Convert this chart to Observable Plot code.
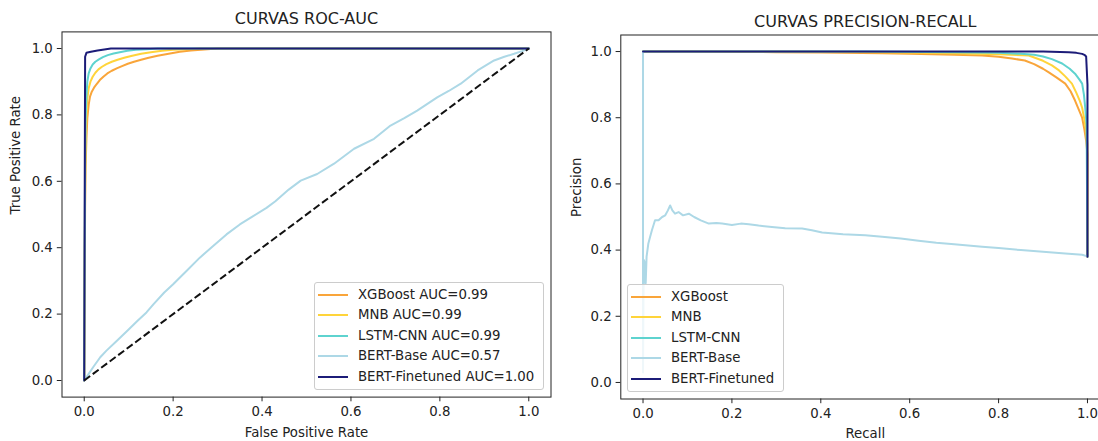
<!DOCTYPE html>
<html>
<head>
<meta charset="utf-8">
<script src="https://cdn.jsdelivr.net/npm/d3@7"></script>
<script src="https://cdn.jsdelivr.net/npm/@observablehq/plot@0.6"></script>
<style>
  html, body { margin: 0; padding: 0; background: #fff; }
  #wrap { position: relative; width: 1098px; height: 441px; overflow: hidden; background: #fff; font-family: "DejaVu Sans", sans-serif; color: #222; }
  #wrap svg { position: absolute; top: 0; }
  .legend { position: absolute; border: 1px solid #cccccc; border-radius: 3px; background: rgba(255,255,255,0.8); box-sizing: border-box; }
  .legend .row { position: absolute; left: 0; right: 0; height: 0; }
  .legend .sw { position: absolute; height: 2px; margin-top: -1px; }
  .legend .lab { position: absolute; font-size: 13.3px; line-height: 16px; margin-top: -8px; white-space: nowrap; color: #222; }
</style>
</head>
<body>
<div id="wrap"></div>
<script>
// ---------- data ----------
const models = ["XGBoost", "MNB", "LSTM-CNN", "BERT-Base", "BERT-Finetuned"];
const aucLabels = ["0.99", "0.99", "0.99", "0.57", "1.00"];
const modelColors = ["#f9a53a", "#ffd43a", "#5ed3cf", "#add8e6", "#1c1c78"];
const ticks = [0, 0.2, 0.4, 0.6, 0.8, 1.0];

// ROC curves: [fpr, tpr]
const rocXGBoost = [[0,0],[0.001,0.30],[0.002,0.52],[0.003,0.64],[0.005,0.73],[0.007,0.79],[0.010,0.83],[0.013,0.855],[0.017,0.87],[0.022,0.882],[0.028,0.893],[0.035,0.905],[0.043,0.915],[0.052,0.925],[0.062,0.933],[0.073,0.94],[0.085,0.947],[0.098,0.954],[0.112,0.96],[0.128,0.966],[0.145,0.972],[0.165,0.978],[0.19,0.984],[0.215,0.99],[0.24,0.994],[0.27,0.997],[0.30,1.0],[1,1]];
const rocMNB = [[0,0],[0.001,0.35],[0.002,0.6],[0.003,0.72],[0.005,0.8],[0.007,0.85],[0.01,0.88],[0.014,0.9],[0.019,0.915],[0.025,0.927],[0.032,0.937],[0.04,0.945],[0.05,0.953],[0.062,0.96],[0.075,0.966],[0.09,0.972],[0.108,0.978],[0.128,0.984],[0.15,0.989],[0.175,0.993],[0.2,0.996],[0.23,0.998],[0.26,1.0],[1,1]];
const rocLSTM = [[0,0],[0.001,0.4],[0.002,0.65],[0.003,0.78],[0.005,0.86],[0.007,0.9],[0.01,0.925],[0.014,0.94],[0.019,0.952],[0.025,0.96],[0.033,0.967],[0.042,0.974],[0.053,0.98],[0.066,0.985],[0.08,0.989],[0.097,0.993],[0.116,0.996],[0.14,0.998],[0.165,1.0],[1,1]];
const rocBertBase = [[0,0],[0.01,0.02],[0.02,0.04],[0.036,0.07],[0.05,0.09],[0.07,0.115],[0.097,0.15],[0.12,0.18],[0.14,0.205],[0.156,0.23],[0.18,0.265],[0.2,0.29],[0.23,0.33],[0.26,0.37],[0.29,0.405],[0.32,0.44],[0.35,0.47],[0.38,0.495],[0.41,0.52],[0.43,0.54],[0.46,0.575],[0.487,0.602],[0.524,0.622],[0.562,0.653],[0.607,0.698],[0.652,0.728],[0.689,0.768],[0.72,0.79],[0.749,0.813],[0.794,0.853],[0.82,0.872],[0.847,0.894],[0.885,0.934],[0.922,0.964],[0.945,0.975],[0.967,0.984],[0.985,0.992],[1,1]];
const rocBertFT = [[0,0],[0.001,0.5],[0.002,0.975],[0.005,0.987],[0.015,0.99],[0.03,0.994],[0.045,0.997],[0.06,1.0],[1,1]];
const diagonal = [[0,0],[1,1]];

// Precision-recall curves: [recall, precision]
const prXGBoost = [[0,1],[0.1,1],[0.23,0.999],[0.3,0.998],[0.4,0.997],[0.538,0.995],[0.6,0.993],[0.7,0.99],[0.763,0.988],[0.8,0.984],[0.83,0.979],[0.859,0.973],[0.88,0.962],[0.9,0.948],[0.913,0.937],[0.93,0.922],[0.95,0.903],[0.962,0.88],[0.972,0.852],[0.98,0.826],[0.988,0.80],[0.993,0.765],[0.997,0.73],[1.0,0.69],[1.0,0.38]];
const prMNB = [[0,1],[0.3,1],[0.5,0.999],[0.7,0.995],[0.8,0.992],[0.868,0.988],[0.9,0.972],[0.92,0.958],[0.936,0.943],[0.95,0.925],[0.965,0.903],[0.975,0.875],[0.983,0.85],[0.988,0.83],[0.993,0.795],[0.997,0.76],[1.0,0.72],[1.0,0.38]];
const prLSTM = [[0,1],[0.5,1],[0.7,0.998],[0.8,0.996],[0.85,0.993],[0.88,0.99],[0.9,0.985],[0.92,0.977],[0.943,0.964],[0.96,0.948],[0.972,0.933],[0.982,0.915],[0.988,0.903],[0.992,0.87],[0.995,0.83],[0.998,0.78],[1.0,0.38]];
const prBertBase = [[0,1],[0,0.03],[0.001,0.25],[0.002,0.37],[0.004,0.36],[0.006,0.30],[0.008,0.38],[0.012,0.42],[0.016,0.44],[0.02,0.46],[0.027,0.49],[0.035,0.49],[0.043,0.50],[0.05,0.505],[0.056,0.52],[0.061,0.535],[0.066,0.52],[0.072,0.51],[0.08,0.515],[0.09,0.505],[0.103,0.51],[0.115,0.50],[0.13,0.49],[0.148,0.48],[0.165,0.482],[0.178,0.48],[0.2,0.476],[0.22,0.48],[0.238,0.478],[0.26,0.474],[0.29,0.47],[0.32,0.466],[0.358,0.465],[0.38,0.46],[0.403,0.453],[0.45,0.448],[0.5,0.445],[0.538,0.44],[0.58,0.435],[0.62,0.428],[0.66,0.422],[0.7,0.418],[0.763,0.41],[0.8,0.406],[0.85,0.4],[0.9,0.395],[0.95,0.39],[0.988,0.386],[1.0,0.381]];
const prBertFT = [[0,1],[0.5,1],[0.9,1],[0.958,0.998],[0.975,0.996],[0.988,0.993],[0.993,0.99],[0.997,0.985],[1.0,0.9],[1.0,0.38]];

// ---------- build ----------
function rows(seriesList) {
  const out = [];
  seriesList.forEach((s, i) => s.forEach(([x, y]) => out.push({model: models[i], x, y})));
  return out;
}
const rocRows = rows([rocXGBoost, rocMNB, rocLSTM, rocBertBase, rocBertFT]);
const prRows = rows([prXGBoost, prMNB, prLSTM, prBertBase, prBertFT]);

const fontStyle = {fontFamily: "'DejaVu Sans', sans-serif", fontSize: "13.3px", color: "#222", background: "transparent", overflow: "visible"};

function makePlot({width, height, margins, data, title, xLabel, yLabel, yLabelDx, extra}) {
  return Plot.plot({
    width, height,
    marginLeft: margins[0], marginRight: margins[1], marginTop: margins[2], marginBottom: margins[3],
    style: fontStyle,
    x: {domain: [-0.05, 1.05], ticks, tickFormat: d3.format(".1f"), tickSize: 4.7, tickPadding: 4.5, label: null},
    y: {domain: [-0.05, 1.05], ticks, tickFormat: d3.format(".1f"), tickSize: 4.7, tickPadding: 4.5, label: null},
    color: {domain: models, range: modelColors},
    marks: [
      Plot.line(data, {x: "x", y: "y", z: "model", stroke: "model", strokeWidth: 2, curve: "linear"}),
      ...(extra || []),
      Plot.frame({stroke: "#222", strokeWidth: 1}),
      Plot.text([title], {text: d => d, frameAnchor: "top", lineAnchor: "bottom", dy: -8, fontSize: 16, fill: "#222"}),
      Plot.text([xLabel], {text: d => d, frameAnchor: "bottom", lineAnchor: "top", dy: 30, fontSize: 13.3, fill: "#222"}),
      Plot.text([yLabel], {text: d => d, frameAnchor: "left", rotate: -90, lineAnchor: "middle", dx: yLabelDx, fontSize: 13.3, fill: "#222"})
    ]
  });
}

const wrap = document.getElementById("wrap");

const left = makePlot({
  width: 560, height: 441, margins: [61.5, 9.5, 31.4, 44.4],
  data: rocRows, title: "CURVAS ROC-AUC", xLabel: "False Positive Rate", yLabel: "True Positive Rate", yLabelDx: -46,
  extra: [Plot.line(diagonal, {x: d => d[0], y: d => d[1], stroke: "#111", strokeWidth: 2, strokeDasharray: "7.4,3.2", strokeLinecap: "butt"})]
});
left.style.left = "0px";
wrap.appendChild(left);

const right = makePlot({
  width: 552, height: 441, margins: [60.3, 2.8, 34.5, 42.5],
  data: prRows, title: "CURVAS PRECISION-RECALL", xLabel: "Recall", yLabel: "Precision", yLabelDx: -44.3
});
right.style.left = "560px";
wrap.appendChild(right);

function legend(box, labels) {
  const div = document.createElement("div");
  div.className = "legend";
  Object.assign(div.style, {left: box[0] + "px", top: box[1] + "px", width: box[2] + "px", height: box[3] + "px"});
  labels.forEach((lab, i) => {
    const row = document.createElement("div");
    row.className = "row";
    row.style.top = (11.5 + i * 20.5) + "px";
    const sw = document.createElement("div");
    sw.className = "sw";
    Object.assign(sw.style, {left: "3px", width: "29.5px", background: modelColors[i]});
    const t = document.createElement("div");
    t.className = "lab";
    t.style.left = "43px";
    t.textContent = lab;
    row.appendChild(sw); row.appendChild(t);
    div.appendChild(row);
  });
  wrap.appendChild(div);
}
legend([314, 282, 230, 108], models.map((m, i) => `${m} AUC=${aucLabels[i]}`));
legend([627, 284, 157, 108], models);
</script>
</body>
</html>
